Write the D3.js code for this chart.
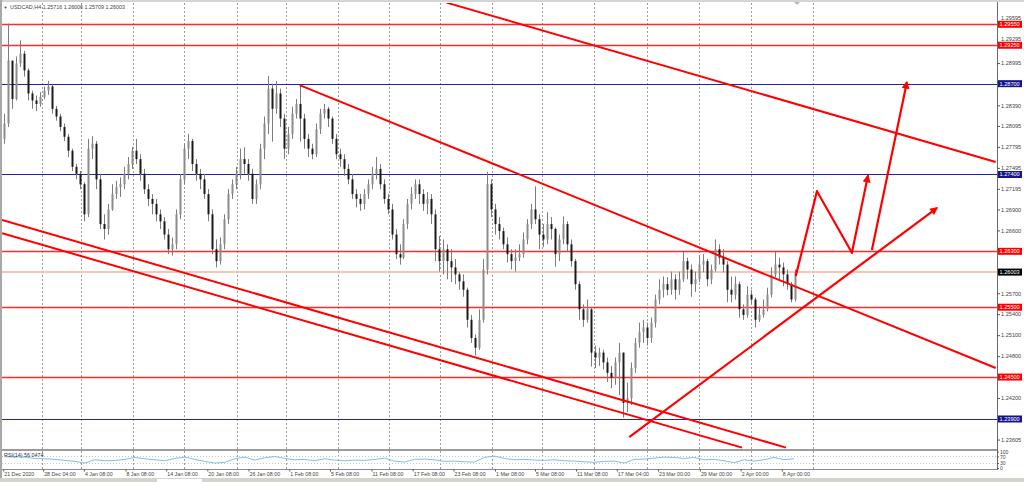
<!DOCTYPE html>
<html><head><meta charset="utf-8">
<script src="https://cdn.jsdelivr.net/npm/d3@7"></script>
<style>html,body{margin:0;padding:0;background:#fff;overflow:hidden}text{font-family:"Liberation Sans",Arial,sans-serif}</style>
</head><body><svg id="c" width="1024" height="482"></svg>
<script>
// ---------- DATA ----------
const symbol = "USDCAD,H4";
const lastOHLC = ["1.25716", "1.26006", "1.25709", "1.26003"];
const firstOpen = 1.2791;
const closes = [1.2813,1.2903,1.2848,1.2899,1.2913,1.2889,1.2856,1.2846,1.2841,1.2851,
1.2860,1.2866,1.2834,1.2823,1.2808,1.2794,1.2774,1.2751,1.2741,1.2726,
1.2683,1.2777,1.2784,1.2733,1.2669,1.2662,1.2690,1.2712,1.2722,1.2726,
1.2741,1.2755,1.2774,1.2762,1.2741,1.2719,1.2705,1.2698,1.2683,1.2673,
1.2654,1.2633,1.2640,1.2683,1.2733,1.2777,1.2788,1.2755,1.2741,1.2733,
1.2712,1.2683,1.2633,1.2616,1.2640,1.2676,1.2712,1.2726,1.2741,1.2762,
1.2755,1.2741,1.2705,1.2726,1.2777,1.2813,1.2863,1.2834,1.2856,1.2820,
1.2777,1.2798,1.2827,1.2841,1.2820,1.2791,1.2777,1.2769,1.2805,1.2827,
1.2834,1.2820,1.2791,1.2769,1.2762,1.2748,1.2733,1.2712,1.2705,1.2698,
1.2712,1.2726,1.2741,1.2748,1.2726,1.2705,1.2690,1.2654,1.2626,1.2621,
1.2669,1.2698,1.2712,1.2726,1.2712,1.2698,1.2705,1.2683,1.2633,1.2616,
1.2633,1.2616,1.2607,1.2597,1.2587,1.2575,1.2532,1.2506,1.2492,1.2532,
1.2604,1.2726,1.2690,1.2669,1.2659,1.2640,1.2626,1.2616,1.2621,1.2626,
1.2647,1.2669,1.2690,1.2676,1.2654,1.2647,1.2669,1.2662,1.2626,1.2647,
1.2669,1.2640,1.2616,1.2583,1.2547,1.2532,1.2547,1.2485,1.2478,1.2485,
1.2471,1.2456,1.2449,1.2471,1.2485,1.2413,1.2420,1.2463,1.2499,1.2514,
1.2521,1.2506,1.2528,1.2561,1.2575,1.2583,1.2575,1.2590,1.2575,1.2590,
1.2616,1.2604,1.2583,1.2590,1.2611,1.2616,1.2590,1.2604,1.2633,1.2621,
1.2611,1.2575,1.2568,1.2583,1.2547,1.2539,1.2568,1.2561,1.2532,1.2539,
1.2547,1.2568,1.2597,1.2611,1.2607,1.2597,1.2583,1.2561,1.26003];
const highs = [1.2827,1.2956,1.2889,1.2909,1.2932,1.2917,1.2892,1.2860,1.2853,1.2858,
1.2866,1.2874,1.2869,1.2838,1.2827,1.2813,1.2798,1.2777,1.2755,1.2745,
1.2729,1.2791,1.2795,1.2788,1.2741,1.2683,1.2698,1.2726,1.2731,1.2736,
1.2751,1.2765,1.2779,1.2791,1.2769,1.2748,1.2726,1.2712,1.2705,1.2690,
1.2679,1.2662,1.2650,1.2690,1.2741,1.2784,1.2798,1.2791,1.2762,1.2748,
1.2741,1.2719,1.2690,1.2647,1.2650,1.2683,1.2719,1.2733,1.2751,1.2777,
1.2779,1.2762,1.2748,1.2733,1.2784,1.2823,1.2881,1.2870,1.2874,1.2863,
1.2827,1.2808,1.2837,1.2848,1.2867,1.2827,1.2798,1.2784,1.2813,1.2834,
1.2841,1.2837,1.2823,1.2798,1.2777,1.2769,1.2755,1.2741,1.2719,1.2712,
1.2719,1.2733,1.2751,1.2765,1.2755,1.2733,1.2712,1.2698,1.2662,1.2640,
1.2676,1.2705,1.2722,1.2733,1.2733,1.2719,1.2715,1.2712,1.2690,1.2652,
1.2647,1.2640,1.2633,1.2619,1.2600,1.2597,1.2578,1.2539,1.2511,1.2547,
1.2619,1.2744,1.2733,1.2698,1.2679,1.2664,1.2650,1.2633,1.2633,1.2640,
1.2657,1.2676,1.2698,1.2723,1.2683,1.2669,1.2686,1.2679,1.2664,1.2654,
1.2680,1.2673,1.2647,1.2619,1.2587,1.2554,1.2561,1.2550,1.2495,1.2492,
1.2489,1.2478,1.2466,1.2478,1.2499,1.2485,1.2442,1.2471,1.2506,1.2528,
1.2532,1.2528,1.2535,1.2568,1.2590,1.2594,1.2593,1.2601,1.2597,1.2601,
1.2629,1.2621,1.2611,1.2601,1.2623,1.2626,1.2619,1.2611,1.2647,1.2640,
1.2633,1.2616,1.2594,1.2594,1.2587,1.2554,1.2580,1.2575,1.2564,1.2551,
1.2561,1.2578,1.2607,1.2630,1.2621,1.2614,1.2604,1.2586,1.2604];
const lows = [1.2784,1.2808,1.2834,1.2846,1.2894,1.2880,1.2846,1.2834,1.2831,1.2837,
1.2848,1.2854,1.2827,1.2817,1.2802,1.2788,1.2765,1.2745,1.2733,1.2719,
1.2673,1.2679,1.2762,1.2719,1.2662,1.2647,1.2654,1.2688,1.2705,1.2708,
1.2719,1.2733,1.2748,1.2755,1.2731,1.2712,1.2695,1.2683,1.2673,1.2662,
1.2647,1.2626,1.2624,1.2633,1.2676,1.2726,1.2762,1.2745,1.2731,1.2719,
1.2705,1.2673,1.2626,1.2607,1.2611,1.2633,1.2669,1.2705,1.2719,1.2733,
1.2741,1.2731,1.2698,1.2698,1.2719,1.2762,1.2798,1.2787,1.2827,1.2808,
1.2762,1.2769,1.2791,1.2820,1.2787,1.2777,1.2765,1.2762,1.2765,1.2798,
1.2820,1.2808,1.2784,1.2762,1.2751,1.2738,1.2726,1.2705,1.2693,1.2688,
1.2690,1.2705,1.2719,1.2733,1.2719,1.2698,1.2683,1.2647,1.2619,1.2611,
1.2619,1.2662,1.2690,1.2705,1.2698,1.2688,1.2683,1.2669,1.2616,1.2601,
1.2597,1.2590,1.2586,1.2583,1.2575,1.2565,1.2521,1.2499,1.2481,1.2489,
1.2528,1.2597,1.2679,1.2654,1.2647,1.2633,1.2614,1.2604,1.2601,1.2616,
1.2621,1.2640,1.2662,1.2669,1.2633,1.2636,1.2640,1.2647,1.2608,1.2616,
1.2640,1.2630,1.2608,1.2575,1.2532,1.2522,1.2528,1.2465,1.2463,1.2466,
1.2461,1.2443,1.2434,1.2439,1.2424,1.2392,1.2400,1.2410,1.2456,1.2492,
1.2499,1.2495,1.2499,1.2521,1.2554,1.2564,1.2567,1.2568,1.2561,1.2568,
1.2586,1.2590,1.2565,1.2572,1.2586,1.2600,1.2580,1.2583,1.2601,1.2611,
1.2600,1.2557,1.2557,1.2561,1.2535,1.2532,1.2535,1.2554,1.2521,1.2529,
1.2535,1.2544,1.2564,1.2593,1.2590,1.2580,1.2575,1.2557,1.2558];

const rsiValues = [68,67,66,58,56,52,46,40,30,50,44,46,52,64,56,50,44,58,66,52,
40,30,34,56,66,48,62,70,58,50,52,44,56,48,44,48,46,52,60,42,
36,52,54,50,40,42,38,36,64,72,58,50,52,48,46,50,44,42,38,34,
40,42,30,52,54,60,66,64,58,64,50,52,44,32,50,42,50,64,50,56.05];
const rsiLabel = "RSI(14) 56.0474";
const rsiTicks = [100, 70, 30, 0];
const rsiLevels = [70, 30];

const priceTicks = [1.29595,1.29295,1.28995,1.28390,1.28095,1.27795,1.27495,1.27195,1.26900,
1.26600,1.25700,1.25400,1.25100,1.24800,1.24200,1.23605];

const levelValues = [1.2955, 1.2925, 1.2870, 1.2740, 1.2630, 1.2550, 1.2450, 1.2390];
const levelTypes  = ["r","r","b","b","r","r","r","b"];
const bidPrice = 1.26003;

const timeLabels = ["21 Dec 2020","28 Dec 04:00","4 Jan 08:00","8 Jan 08:00","14 Jan 08:00","20 Jan 08:00",
"26 Jan 08:00","1 Feb 08:00","5 Feb 08:00","11 Feb 08:00","17 Feb 08:00","23 Feb 08:00","1 Mar 08:00",
"5 Mar 08:00","11 Mar 08:00","17 Mar 04:00","23 Mar 00:00","29 Mar 00:00","2 Apr 00:00","8 Apr 00:00"];
const timeLabelBars = [-0.2,9.8,20,30.4,40.6,50.9,61.2,71.4,81.6,92,102.3,112.5,122.9,132.9,143.2,153.4,163.7,174.2,184.4,194.7];
const weekGridBars = [9.5,19.3,32.3,45.1,58.3,70.6,83.6,96.4,109.1,122.2,134.7,147.7,161.0,174.0,187.0,202.5];

// trend lines: [barIndex, price]
const trendTop     = [[110.75, 1.2986], [248.25, 1.2758]];
const trendMid     = [[74, 1.2868], [248.25, 1.2463]];
const channelLowA  = [[-0.5, 1.2675], [195.75, 1.2349]];
const channelLowB  = [[-0.5, 1.2656], [184.75, 1.2349]];
const supportLine  = [[156.5, 1.2364], [233.5, 1.2692]];
const zigzagPath   = [[198.25, 1.2596], [203.5, 1.2716], [212.25, 1.2628], [216.25, 1.2738]];
const targetArrow  = [[217.25, 1.2632], [226, 1.2872]];

// ---------- DRAW ----------
const W = 1024, H = 482;
const svg = d3.select("#c");
const plotL = 2, plotR = 997, plotT = 3, mainB = 449, rsiT = 451, rsiB = 469;

const x = d3.scaleLinear().domain([0, closes.length - 1]).range([4, 795]);
const y = d3.scaleLinear().domain([1.23456, 1.29855]).range([450, 3]);
const yR = d3.scaleLinear().domain([0, 100]).range([468, 451.5]);
const xR = d3.scaleLinear().domain([0, rsiValues.length - 1]).range([x(0.25), x(closes.length - 1.25)]);
const fmt5 = d3.format(".5f");
const red = "#ff0000", navy = "#23239a";

svg.append("rect").attr("width", W).attr("height", H).attr("fill", "#fff");
svg.append("rect").attr("x", 0).attr("y", 0).attr("width", W).attr("height", 2).attr("fill", "#d4d4d4");
svg.append("rect").attr("x", 0).attr("y", 0).attr("width", 2).attr("height", 478).attr("fill", "#a8a8a8");
svg.append("rect").attr("x", 0).attr("y", 478).attr("width", W).attr("height", 4).attr("fill", "#d6d3cc");
svg.append("rect").attr("x", 157).attr("y", 479).attr("width", 45).attr("height", 3).attr("fill", "#fff");

const defs = svg.append("defs");
defs.append("clipPath").attr("id", "clipMain").append("rect")
  .attr("x", plotL).attr("y", plotT).attr("width", plotR - plotL).attr("height", mainB - plotT);
defs.append("marker").attr("id", "arrow").attr("viewBox", "0 0 10 10")
  .attr("refX", 8).attr("refY", 5).attr("markerWidth", 9).attr("markerHeight", 8)
  .attr("markerUnits", "userSpaceOnUse").attr("orient", "auto")
  .append("path").attr("d", "M0,0 L10,5 L0,10 z").attr("fill", red);

// vertical week grid
svg.append("g").selectAll("line").data(weekGridBars).join("line")
  .attr("x1", d => Math.round(x(d)) + 0.5).attr("x2", d => Math.round(x(d)) + 0.5)
  .attr("y1", plotT).attr("y2", rsiB)
  .attr("stroke", "#9a9a9a").attr("stroke-width", 1).attr("stroke-dasharray", "2,2");

// panel borders
svg.append("line").attr("x1", plotL).attr("x2", plotR).attr("y1", 450).attr("y2", 450)
  .attr("stroke", "#9c9c9c").attr("stroke-width", 2);
svg.append("line").attr("x1", plotL).attr("x2", plotR).attr("y1", rsiB + 0.5).attr("y2", rsiB + 0.5)
  .attr("stroke", "#8a8a8a").attr("stroke-width", 1);
svg.append("line").attr("x1", plotR + 0.5).attr("x2", plotR + 0.5).attr("y1", 2).attr("y2", rsiB + 1)
  .attr("stroke", "#6a6a6a").attr("stroke-width", 1);

// right price axis (labels that sit just above a level tag peek out over it)
const yAxis = svg.append("g").attr("transform", `translate(${plotR},0)`)
  .call(d3.axisRight(y).tickValues(priceTicks).tickFormat(fmt5).tickSize(3).tickPadding(1));
yAxis.select(".domain").remove();
yAxis.selectAll("line").attr("stroke", "#555");
yAxis.selectAll("text").attr("font-size", "5.6px").attr("fill", "#444").attr("font-family", "Liberation Sans, Arial")
  .attr("dy", d => levelValues.some(v => Math.abs(y(v) - y(d)) < 6) ? "-0.35em" : "0.32em");

const main = svg.append("g").attr("clip-path", "url(#clipMain)");

// horizontal levels
main.selectAll("line.lvl").data(levelValues).join("line").attr("class", "lvl")
  .attr("x1", plotL).attr("x2", plotR)
  .attr("y1", d => Math.round(y(d)) + 0.5).attr("y2", d => Math.round(y(d)) + 0.5)
  .attr("stroke", (d, i) => levelTypes[i] === "r" ? "#ff2a2a" : navy)
  .attr("stroke-width", (d, i) => levelTypes[i] === "r" ? 1.4 : 1.2);
main.append("line").attr("x1", plotL).attr("x2", plotR)
  .attr("y1", y(bidPrice)).attr("y2", y(bidPrice))
  .attr("stroke", "#f5c6b2").attr("stroke-width", 2);

// candles
const candles = closes.map((c, i) => {
  const o = i === 0 ? firstOpen : closes[i - 1];
  return { i, o, c, h: Math.max(highs[i], o, c), l: Math.min(lows[i], o, c) };
});
main.append("g").selectAll("line").data(candles).join("line")
  .attr("x1", d => Math.round(x(d.i)) + 0.5).attr("x2", d => Math.round(x(d.i)) + 0.5)
  .attr("y1", d => y(d.h)).attr("y2", d => y(d.l))
  .attr("stroke", "#7c7c7c").attr("stroke-width", 1);
main.append("g").selectAll("rect").data(candles).join("rect")
  .attr("x", d => Math.round(x(d.i)) - 0.5).attr("width", 2)
  .attr("y", d => y(Math.max(d.o, d.c)))
  .attr("height", d => Math.max(1, y(Math.min(d.o, d.c)) - y(Math.max(d.o, d.c))))
  .attr("fill", d => d.c >= d.o ? "#8c8c8c" : "#1a1a1a");

// trend lines
const line = d3.line().x(d => x(d[0])).y(d => y(d[1]));
[trendTop, trendMid, channelLowA, channelLowB].forEach(t => {
  main.append("path").attr("d", line(t)).attr("fill", "none").attr("stroke", red).attr("stroke-width", 2);
});
[supportLine, targetArrow].forEach(t => {
  main.append("path").attr("d", line(t)).attr("fill", "none").attr("stroke", red)
    .attr("stroke-width", 2.2).attr("marker-end", "url(#arrow)");
});
for (let k = 0; k < zigzagPath.length - 1; k++) {
  const seg = main.append("path").attr("d", line([zigzagPath[k], zigzagPath[k + 1]]))
    .attr("fill", "none").attr("stroke", red).attr("stroke-width", 2.2).attr("stroke-linecap", "round");
  if (k === zigzagPath.length - 2) seg.attr("marker-end", "url(#arrow)");
}

// level labels on axis
const lab = svg.append("g");
levelValues.forEach((v, i) => {
  const yy = y(v);
  lab.append("rect").attr("x", plotR + 1).attr("y", yy - 3.5).attr("width", 24).attr("height", 7)
    .attr("fill", levelTypes[i] === "r" ? red : "#14148c");
  lab.append("text").attr("x", plotR + 2.5).attr("y", yy + 2).attr("font-size", "5.6px").attr("fill", "#fff").text(fmt5(v));
});
lab.append("rect").attr("x", plotR + 1).attr("y", y(bidPrice) - 3.5).attr("width", 24).attr("height", 7).attr("fill", "#000");
lab.append("text").attr("x", plotR + 2.5).attr("y", y(bidPrice) + 2).attr("font-size", "5.6px").attr("fill", "#fff").text(fmt5(bidPrice));

// header
svg.append("text").attr("x", 3.5).attr("y", 8.5).attr("font-size", "4px").attr("fill", "#333")
  .attr("font-family", "DejaVu Sans").text("\u25BC");
svg.append("text").attr("x", 10).attr("y", 8.8).attr("font-size", "5.4px").attr("fill", "#444")
  .text(symbol + " " + lastOHLC.join(" "));
svg.append("path").attr("d", "M794,2 L800,2 L797,5 Z").attr("fill", "#b8b8b8");

// RSI panel
svg.append("g").selectAll("line").data(rsiLevels).join("line")
  .attr("x1", plotL).attr("x2", plotR).attr("y1", d => Math.round(yR(d)) + 0.5).attr("y2", d => Math.round(yR(d)) + 0.5)
  .attr("stroke", "#c4c4c4").attr("stroke-dasharray", "1,2");
svg.append("path").datum(rsiValues)
  .attr("d", d3.line().x((d, i) => xR(i)).y(d => yR(d)).curve(d3.curveLinear))
  .attr("fill", "none").attr("stroke", "#7fbcf0").attr("stroke-width", 1);
svg.append("text").attr("x", 4).attr("y", 456.5).attr("font-size", "5.4px").attr("fill", "#333").text(rsiLabel);
const rAxis = svg.append("g").attr("transform", `translate(${plotR},0)`)
  .call(d3.axisRight(yR).tickValues(rsiTicks).tickSize(2).tickPadding(1));
rAxis.select(".domain").remove();
rAxis.selectAll("line").attr("stroke", "#555");
rAxis.selectAll("text").attr("font-size", "5px").attr("fill", "#444").attr("font-family", "Liberation Sans, Arial");

// time axis
const xAxis = svg.append("g").attr("transform", `translate(0,${rsiB + 0.5})`)
  .call(d3.axisBottom(x).tickValues(timeLabelBars).tickFormat((d, i) => timeLabels[i]).tickSize(2).tickPadding(1));
xAxis.select(".domain").remove();
xAxis.selectAll("line").attr("stroke", "#555");
xAxis.selectAll("text").attr("text-anchor", "start").attr("x", 0.5).attr("y", 3).attr("dy", "0.71em")
  .attr("font-size", "5.3px").attr("fill", "#444").attr("font-family", "Liberation Sans, Arial");
</script></body></html>
